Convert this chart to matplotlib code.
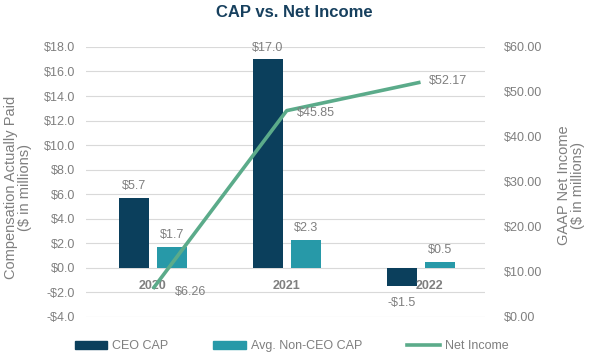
import matplotlib.pyplot as plt
import matplotlib.patches as mpatches
import matplotlib.lines as mlines
import numpy as np

plt.rcParams['font.family'] = ['Liberation Sans', 'DejaVu Sans']

years = ['2020', '2021', '2022']
ceo_cap = [5.7, 17.0, -1.5]
non_ceo_cap = [1.7, 2.3, 0.5]
net_income = [6.26, 45.85, 52.17]

left_ticks = [-4, -2, 0, 2, 4, 6, 8, 10, 12, 14, 16, 18]
right_ticks = [0, 10, 20, 30, 40, 50, 60]

c_ceo = '#0b3f5c'
c_non = '#2799a8'
c_line = '#5bab8a'
c_text = '#7f7f7f'
c_grid = '#d9d9d9'

fig = plt.figure(figsize=(5.89, 3.53), dpi=100)
ax = fig.add_axes([0.146, 0.102, 0.677, 0.765])
ax2 = ax.twinx()

x = np.arange(len(years))
w = 0.224
off = 0.142

ax.bar(x - off, ceo_cap, width=w, color=c_ceo, zorder=2)
ax.bar(x + off, non_ceo_cap, width=w, color=c_non, zorder=2)

ax.set_xlim(-0.5, 2.48)
ax.set_ylim(-4, 18)
ax.set_yticks(left_ticks)
ax.set_yticklabels([('-$%.1f' % -v) if v < 0 else ('$%.1f' % v) for v in left_ticks])
ax.grid(axis='y', color=c_grid, linewidth=0.8, zorder=0)
ax.set_axisbelow(True)
ax.set_xticks([])

ax2.set_ylim(0, 60)
ax2.set_yticks(right_ticks)
ax2.set_yticklabels(['$%.2f' % v for v in right_ticks])
ax2.plot(x, net_income, color=c_line, linewidth=2.6, solid_capstyle='butt', zorder=3)

for a in (ax, ax2):
    for s in a.spines.values():
        s.set_visible(False)
    a.tick_params(axis='y', length=0, labelsize=9, labelcolor=c_text)
ax.tick_params(axis='y', pad=8)
ax2.tick_params(axis='y', pad=14)

# bar value labels
for i in range(len(years)):
    for v, xo in ((ceo_cap[i], -off), (non_ceo_cap[i], off)):
        lbl = ('-$%.1f' % -v) if v < 0 else ('$%.1f' % v)
        ax.annotate(lbl, (i + xo, v), xytext=(0, 4 if v >= 0 else -8),
                    textcoords='offset points', ha='center',
                    va='bottom' if v >= 0 else 'top', fontsize=9, color=c_text)

# year labels near zero line
year_x = [0, 1, 2.07]
for xi, yr in zip(year_x, years):
    ax.text(xi, -1.45, yr, ha='center', va='center', fontsize=9,
            fontweight='bold', color=c_text, zorder=4)

# net income labels
ni_off = [(16, -2), (7, -2), (6, 1)]
for i, v in enumerate(net_income):
    ax2.annotate('$%.2f' % v, (x[i], v), xytext=ni_off[i], textcoords='offset points',
                 ha='left', va='center', fontsize=9, color=c_text)

fig.text(0.5, 0.965, 'CAP vs. Net Income', ha='center', va='center',
         fontsize=12, fontweight='bold', color='#17405e')

fig.text(0.03, 0.47, 'Compensation Actually Paid\n($ in millions)', rotation=90,
         ha='center', va='center', fontsize=10.5, color=c_text, linespacing=1.0)
fig.text(0.97, 0.475, 'GAAP Net Income\n($ in millions)', rotation=90,
         ha='center', va='center', fontsize=10.5, color=c_text, linespacing=1.0)

handles = [mpatches.Patch(color=c_ceo, label='CEO CAP'),
           mpatches.Patch(color=c_non, label='Avg. Non-CEO CAP'),
           mlines.Line2D([], [], color=c_line, linewidth=2.6, label='Net Income')]
leg = fig.legend(handles=handles, loc='center', bbox_to_anchor=(0.495, 0.02), ncol=3,
                 frameon=False, fontsize=9, handlelength=2.6, handleheight=0.6,
                 handletextpad=0.4, columnspacing=3.6)
for t in leg.get_texts():
    t.set_color(c_text)

fig.savefig('out.png', dpi=100)
